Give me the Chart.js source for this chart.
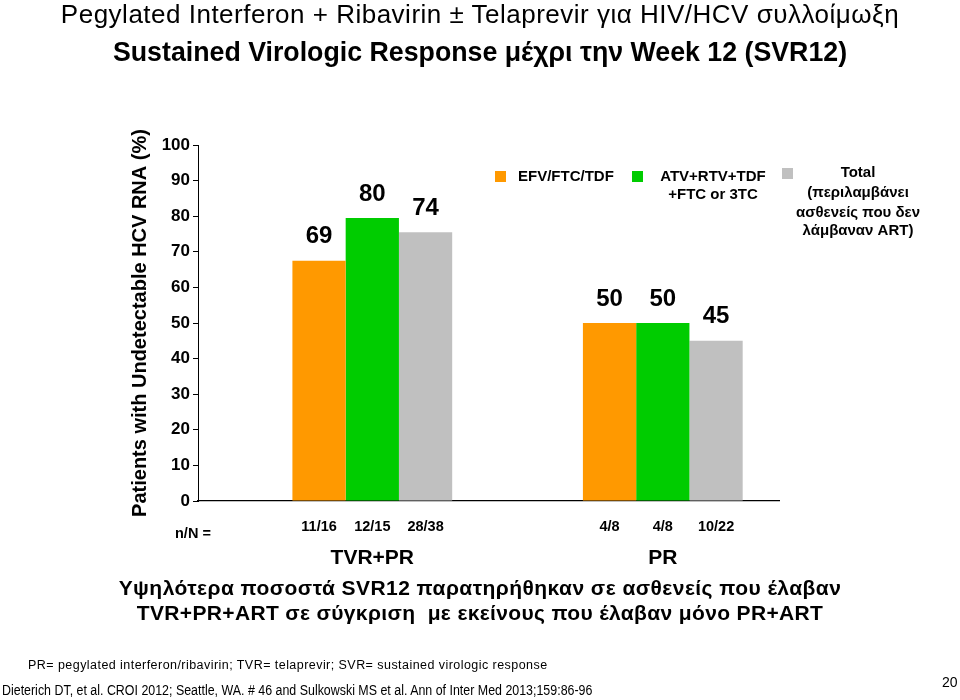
<!DOCTYPE html>
<html>
<head>
<meta charset="utf-8">
<script src="https://cdn.jsdelivr.net/npm/chart.js@4.4.1/dist/chart.umd.min.js"></script>
<style>
  html, body { margin: 0; padding: 0; background: #fff; }
  #wrap { position: relative; width: 960px; height: 700px; overflow: hidden; }
  #chartBox { position: absolute; left: 0; top: 0; width: 960px; height: 700px; }
  .t { position: absolute; left: 0; width: 960px; text-align: center; color: #000; white-space: nowrap; transform-origin: 480px 50%; font-family: "Liberation Sans", Arial, sans-serif; }
  #t1 { top: -1px; font-size: 26px; font-weight: 400; letter-spacing: 0.5px; }
  #t2 { top: 36px; font-size: 28px; font-weight: 700; transform: scaleX(0.955); }
  #c1 { top: 576px; font-size: 21px; font-weight: 700; letter-spacing: 0.45px; }
  #c2 { top: 601px; font-size: 21px; font-weight: 700; letter-spacing: 0.35px; }
  .f { position: absolute; color: #000; white-space: nowrap; transform-origin: 0 50%; font-family: "Liberation Sans", Arial, sans-serif; font-weight: 400; }
  #f1 { left: 28px; top: 658px; font-size: 12.5px; letter-spacing: 0.45px; }
  #f2 { left: 2px; top: 682px; font-size: 14px; transform: scaleX(0.887); }
  #pg { left: 942px; top: 674px; font-size: 14px; }
</style>
</head>
<body>
<div id="wrap">
  <div id="chartBox"><canvas id="chart"></canvas></div>
  <div class="t" id="t1">Pegylated Interferon + Ribavirin ± Telaprevir για HIV/HCV συλλοίμωξη</div>
  <div class="t" id="t2">Sustained Virologic Response μέχρι την Week 12 (SVR12)</div>
  <div class="t" id="c1">Υψηλότερα ποσοστά SVR12 παρατηρήθηκαν σε ασθενείς που έλαβαν</div>
  <div class="t" id="c2">TVR+PR+ART σε σύγκριση&nbsp; με εκείνους που έλαβαν μόνο PR+ART</div>
  <div class="f" id="f1">PR= pegylated interferon/ribavirin; TVR= telaprevir; SVR= sustained virologic response</div>
  <div class="f" id="f2">Dieterich DT, et al. CROI 2012; Seattle, WA. # 46 and Sulkowski MS et al. Ann of Inter Med 2013;159:86-96</div>
  <div class="f" id="pg">20</div>
</div>
<script>
// ---- data ----
const groups = ['TVR+PR', 'PR'];
const groupPos = [3, 8];
const seriesNames = ['EFV/FTC/TDF', 'ATV+RTV+TDF +FTC or 3TC', 'Total (περιλαμβάνει ασθενείς που δεν λάμβαναν ART)'];
const efvValues = [67.5, 50];
const atvValues = [79.5, 50];
const totalValues = [75.5, 45];
const efvLabels = ['69', '50'];
const atvLabels = ['80', '50'];
const totalLabels = ['74', '45'];
const efvN = ['11/16', '4/8'];
const atvN = ['12/15', '4/8'];
const totalN = ['28/38', '10/22'];
const yTicks = [0, 10, 20, 30, 40, 50, 60, 70, 80, 90, 100];
const legendLines = [
  ['EFV/FTC/TDF'],
  ['ATV+RTV+TDF', '+FTC or 3TC'],
  ['Total', '(περιλαμβάνει', 'ασθενείς που δεν', 'λάμβαναν ART)']
];

const colors = ['#FF9900', '#00CC00', '#C0C0C0'];
const FONT = '"Liberation Sans", Arial, sans-serif';

function pts(vals) { return vals.map((v, i) => ({ x: groupPos[i], y: v })); }

const labelSets = [efvLabels, atvLabels, totalLabels];
const nSets = [efvN, atvN, totalN];

const annotPlugin = {
  id: 'annot',
  afterDatasetsDraw(chart) {
    const ctx = chart.ctx;
    const xs = chart.scales.x;
    ctx.save();
    ctx.fillStyle = '#000';
    ctx.textAlign = 'center';
    ctx.textBaseline = 'middle';
    chart.data.datasets.forEach((ds, di) => {
      const meta = chart.getDatasetMeta(di);
      meta.data.forEach((bar, i) => {
        ctx.font = 'bold 24px ' + FONT;
        ctx.fillText(labelSets[di][i], bar.x, bar.y - 24);
        ctx.font = 'bold 14.5px ' + FONT;
        ctx.fillText(nSets[di][i], bar.x, xs.bottom + 18);
      });
    });
    ctx.font = 'bold 14.5px ' + FONT;
    ctx.textAlign = 'left';
    ctx.fillText('n/N =', 175, xs.bottom + 25);
    ctx.textAlign = 'center';
    ctx.font = 'bold 21px ' + FONT;
    groups.forEach((g, i) => {
      ctx.fillText(g, xs.getPixelForValue(groupPos[i]), xs.bottom + 49);
    });
    // legend
    const legX = [495, 632, 782];
    const legBoxY = [171, 171, 168];
    const legTextX = [518, 713, 858];
    const legTextAlign = ['left', 'center', 'center'];
    const legTextY = [[177], [177, 195], [173, 193, 213, 231]];
    ctx.font = 'bold 15px ' + FONT;
    legendLines.forEach((lines, i) => {
      ctx.fillStyle = colors[i];
      ctx.fillRect(legX[i], legBoxY[i], 11, 11);
      ctx.fillStyle = '#000';
      ctx.textAlign = legTextAlign[i];
      lines.forEach((ln, j) => ctx.fillText(ln, legTextX[i], legTextY[i][j]));
    });
    ctx.restore();
  }
};

new Chart(document.getElementById('chart'), {
  type: 'bar',
  data: {
    datasets: [
      { label: seriesNames[0], data: pts(efvValues), backgroundColor: colors[0], borderWidth: 0 },
      { label: seriesNames[1], data: pts(atvValues), backgroundColor: colors[1], borderWidth: 0 },
      { label: seriesNames[2], data: pts(totalValues), backgroundColor: colors[2], borderWidth: 0 }
    ]
  },
  options: {
    responsive: true,
    maintainAspectRatio: false,
    animation: false,
    events: [],
    layout: { padding: { top: 145, right: 181, bottom: 191, left: 0 } },
    datasets: { bar: { categoryPercentage: 0.55, barPercentage: 1.0 } },
    plugins: { legend: { display: false }, tooltip: { enabled: false } },
    scales: {
      x: {
        type: 'linear',
        min: 0,
        max: 10,
        offset: false,
        ticks: { display: false, stepSize: 5 },
        grid: { display: false },
        border: { display: true, color: '#000', width: 1.3 }
      },
      y: {
        min: 0,
        max: 100,
        afterBuildTicks(scale) { scale.ticks = yTicks.map(v => ({ value: v })); },
        afterFit(scale) { scale.width = 198; },
        ticks: { color: '#000', font: { family: FONT, size: 17, weight: 'bold' }, padding: 3 },
        grid: { display: true, drawOnChartArea: false, drawTicks: true, tickLength: 5, color: '#000' },
        border: { display: true, color: '#000', width: 1 },
        title: {
          display: true,
          text: 'Patients with Undetectable HCV RNA (%)',
          color: '#000',
          font: { family: FONT, size: 20, weight: 'bold' },
          padding: { top: 128, bottom: 0 }
        }
      }
    }
  },
  plugins: [annotPlugin]
});
</script>
</body>
</html>
